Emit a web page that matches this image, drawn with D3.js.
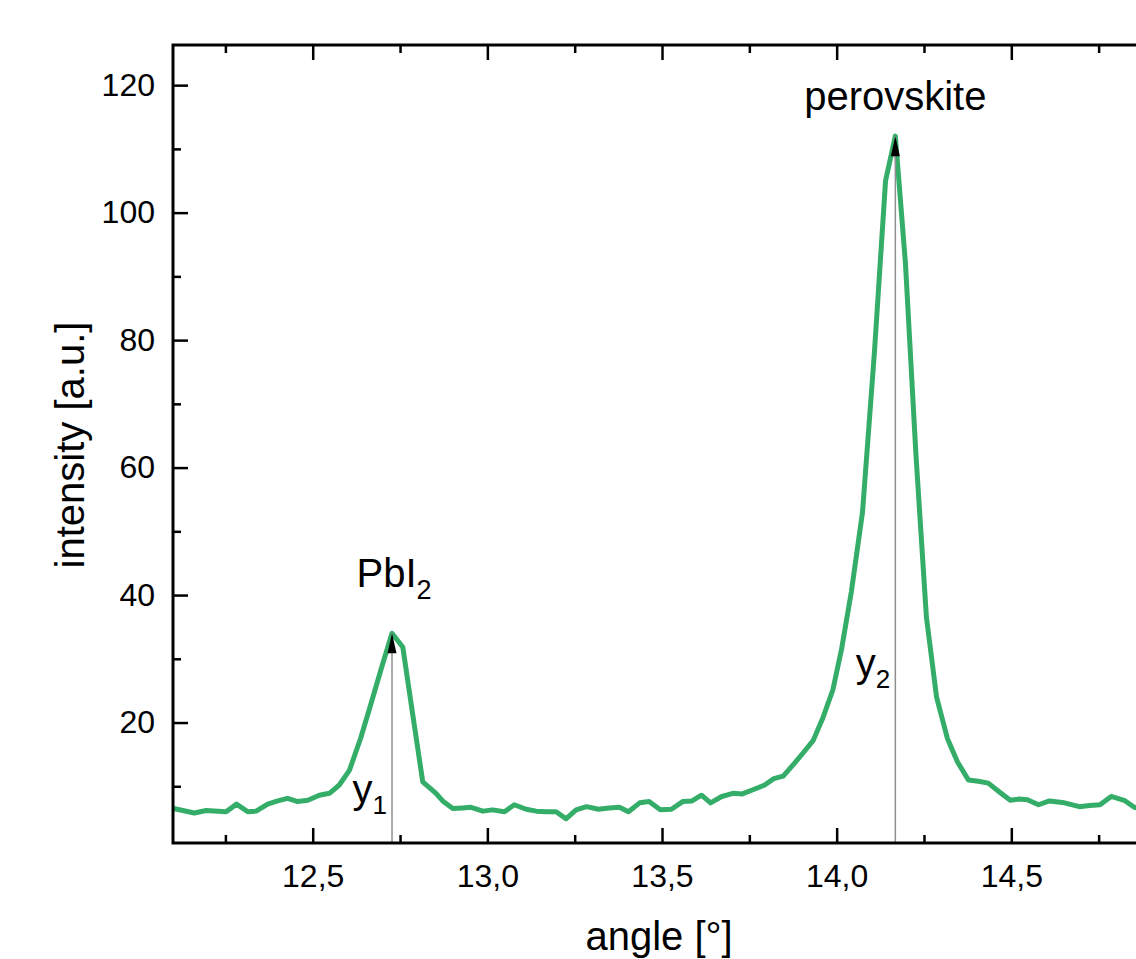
<!DOCTYPE html>
<html>
<head>
<meta charset="utf-8">
<script src="https://cdn.jsdelivr.net/npm/d3@7"></script>
<style>
body { margin: 0; background: #fff; overflow: hidden; }
svg { display: block; background: #fff; font-family: "Liberation Sans", Arial, sans-serif; }
</style>
</head>
<body>
<svg></svg>
<script>
// ================= DATA =================
var angle = [12.095, 12.161, 12.195, 12.252, 12.282, 12.314, 12.338, 12.371, 12.400, 12.428,
             12.457, 12.486, 12.519, 12.548, 12.576, 12.605, 12.637, 12.667, 12.697, 12.727,
             12.758, 12.787, 12.815, 12.853, 12.874, 12.901, 12.929, 12.953, 12.987, 13.015,
             13.049, 13.077, 13.111, 13.140, 13.168, 13.197, 13.225, 13.254, 13.284, 13.318,
             13.349, 13.378, 13.404, 13.436, 13.463, 13.495, 13.527, 13.559, 13.586, 13.613,
             13.639, 13.671, 13.703, 13.730, 13.762, 13.794, 13.820, 13.847, 13.879, 13.905,
             13.933, 13.961, 13.989, 14.014, 14.042, 14.074, 14.108, 14.140, 14.168, 14.197,
             14.227, 14.257, 14.286, 14.317, 14.346, 14.377, 14.406, 14.434, 14.466, 14.497,
             14.522, 14.546, 14.578, 14.609, 14.652, 14.695, 14.724, 14.754, 14.786, 14.823,
             14.852, 14.887];
var intensity = [6.6, 5.8, 6.2, 6.0, 7.2, 6.0, 6.1, 7.2, 7.7, 8.1,
                 7.6, 7.8, 8.6, 8.9, 10.2, 12.5, 17.5, 23.0, 28.6, 34.0,
                 31.8, 21.0, 10.7, 8.9, 7.6, 6.5, 6.6, 6.7, 6.1, 6.3,
                 6.0, 7.1, 6.4, 6.1, 6.0, 6.0, 4.9, 6.3, 6.8, 6.4,
                 6.6, 6.7, 6.0, 7.4, 7.6, 6.3, 6.4, 7.6, 7.7, 8.6,
                 7.4, 8.4, 8.9, 8.8, 9.5, 10.2, 11.2, 11.6, 13.6, 15.3,
                 17.2, 20.8, 25.1, 31.5, 40.5, 53.0, 78.0, 105.0, 112.0, 92.0,
                 62.0, 36.5, 24.0, 17.5, 13.8, 11.0, 10.8, 10.5, 9.1, 7.8,
                 8.0, 7.9, 7.1, 7.7, 7.4, 6.8, 7.0, 7.1, 8.4, 7.8,
                 6.7, 6.3];

var peakAngle = [12.727, 14.168];
var peakValue = [34.0, 112.0];
var peakName = ["PbI", "perovskite"];
var peakNameSub = ["2", ""];
var peakY = ["y", "y"];
var peakYSub = ["1", "2"];

var xMajor = [12.5, 13.0, 13.5, 14.0, 14.5];
var xMinor = [12.25, 12.75, 13.25, 13.75, 14.25, 14.75];
var yMajor = [20, 40, 60, 80, 100, 120];
var yMinor = [10, 30, 50, 70, 90, 110];
// ============================================================

function init() {
var width = 1136;
var height = 959;
var pL = 173, pR = 1165, pT = 45, pB = 843;

var svg = d3.select("svg").attr("width", width).attr("height", height);

var xs = d3.scaleLinear().domain([12.1, 14.94]).range([pL, pR]);
var ys = d3.scaleLinear().domain([1.1, 126.3]).range([pB, pT]);

var comma = d3.formatLocale({decimal: ",", thousands: ".", grouping: [3], currency: ["", ""]});
var fmtX = comma.format(".1f");

svg.append("clipPath").attr("id", "plot")
    .append("rect")
    .attr("x", pL).attr("y", pT)
    .attr("width", pR - pL).attr("height", pB - pT);

// ================== CURVE ==================
var pts = angle.map(function(a, i) { return [a, intensity[i]]; });
svg.append("path")
    .datum(pts)
    .attr("clip-path", "url(#plot)")
    .attr("fill", "none")
    .attr("stroke", "#34ad69")
    .attr("stroke-width", 5)
    .attr("stroke-linejoin", "round")
    .attr("d", d3.line().x(function(d) { return xs(d[0]); }).y(function(d) { return ys(d[1]); }));

// ================== PEAK MARKERS ==================
peakAngle.forEach(function(a, i) {
    var px = xs(a), py = ys(peakValue[i]);
    svg.append("line")
        .attr("x1", px).attr("x2", px)
        .attr("y1", py).attr("y2", pB)
        .attr("stroke", "#8f8f8f").attr("stroke-width", 1.5);
    svg.append("path")
        .attr("d", "M" + px + "," + py + "L" + (px + 4.5) + "," + (py + 20) + "L" + (px - 4.5) + "," + (py + 20) + "Z")
        .attr("fill", "#000");
});

// ================== AXES ==================
function styleAxis(g) {
    g.select(".domain").remove();
    g.selectAll("line").attr("stroke", "#000").attr("stroke-width", 2.5);
    g.selectAll("text").attr("fill", "#000").attr("font-size", 32)
        .attr("font-family", "'Liberation Sans', Arial, sans-serif");
}

svg.append("g").attr("transform", "translate(0," + pB + ")")
    .call(d3.axisBottom(xs).tickValues(xMajor).tickSize(-15).tickPadding(21).tickFormat(fmtX))
    .call(styleAxis);
svg.append("g").attr("transform", "translate(0," + pB + ")")
    .call(d3.axisBottom(xs).tickValues(xMinor).tickSize(-8).tickFormat(""))
    .call(styleAxis);
svg.append("g").attr("transform", "translate(0," + pT + ")")
    .call(d3.axisTop(xs).tickValues(xMajor).tickSize(-15).tickFormat(""))
    .call(styleAxis);
svg.append("g").attr("transform", "translate(0," + pT + ")")
    .call(d3.axisTop(xs).tickValues(xMinor).tickSize(-8).tickFormat(""))
    .call(styleAxis);

svg.append("g").attr("transform", "translate(" + pL + ",0)")
    .call(d3.axisLeft(ys).tickValues(yMajor).tickSize(-15).tickPadding(18).tickFormat(d3.format("d")))
    .call(styleAxis);
svg.append("g").attr("transform", "translate(" + pL + ",0)")
    .call(d3.axisLeft(ys).tickValues(yMinor).tickSize(-8).tickFormat(""))
    .call(styleAxis);
svg.append("g").attr("transform", "translate(" + pR + ",0)")
    .call(d3.axisRight(ys).tickValues(yMajor).tickSize(-15).tickFormat(""))
    .call(styleAxis);

svg.append("rect")
    .attr("x", pL).attr("y", pT)
    .attr("width", pR - pL).attr("height", pB - pT)
    .attr("fill", "none").attr("stroke", "#000").attr("stroke-width", 3);

// ================== TITLES ==================
svg.append("text")
    .attr("x", (pL + pR) / 2 - 10).attr("y", 950)
    .attr("text-anchor", "middle").attr("font-size", 40)
    .text("angle [°]");

svg.append("text")
    .attr("transform", "translate(84," + ((pT + pB) / 2 + 1) + ")rotate(-90)")
    .attr("text-anchor", "middle").attr("font-size", 40)
    .text("intensity [a.u.]");

// ================== LABELS ==================
var nameOffset = [-46.5, -26];
var nameShift = [2, 0];
var yLabelBase = [803, 677];

peakAngle.forEach(function(a, i) {
    var px = xs(a), py = ys(peakValue[i]);
    var t = svg.append("text")
        .attr("x", px + nameShift[i]).attr("y", py + nameOffset[i])
        .attr("text-anchor", "middle").attr("font-size", 40);
    t.append("tspan").text(peakName[i]);
    if (peakNameSub[i]) t.append("tspan").attr("font-size", 27).attr("dy", 12.5).text(peakNameSub[i]);

    var s = svg.append("text")
        .attr("x", px - 5).attr("y", yLabelBase[i])
        .attr("text-anchor", "end").attr("font-size", 40);
    s.append("tspan").text(peakY[i]);
    s.append("tspan").attr("font-size", 26).attr("dy", 10.5).text(peakYSub[i]);
});
}

init();
</script>
</body>
</html>
